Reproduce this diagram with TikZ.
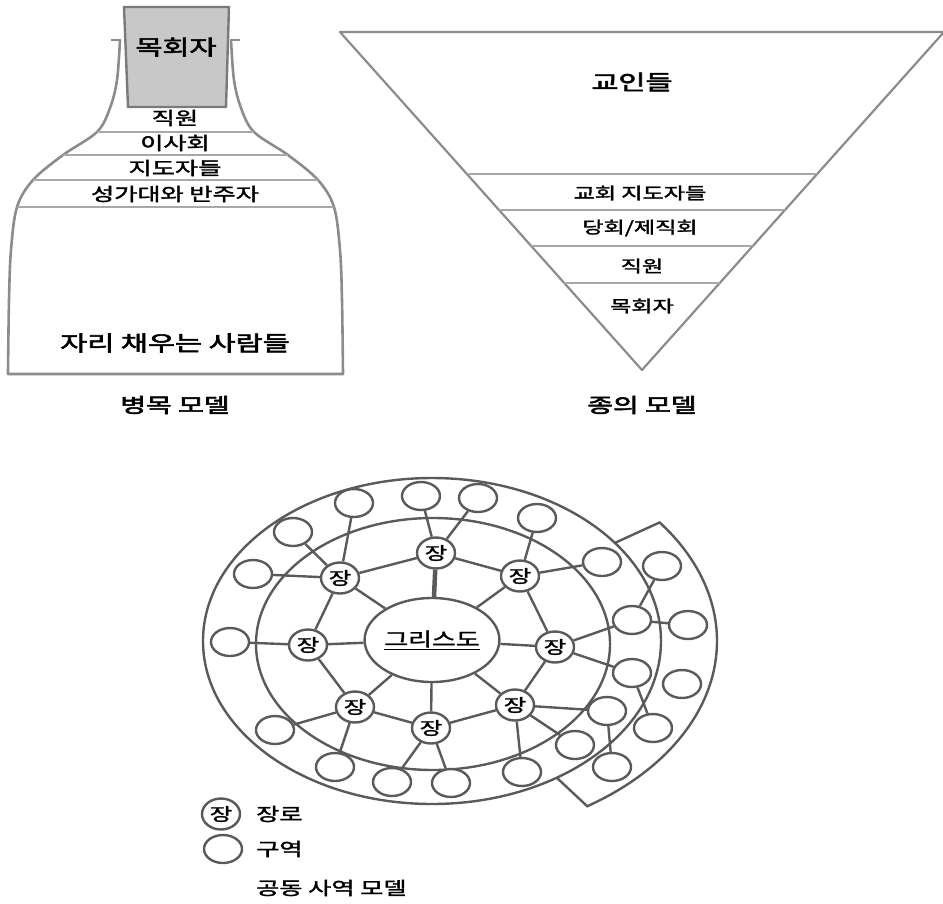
\documentclass[tikz,border=0pt]{standalone}
\usepackage{fontspec}
\setmainfont{Noto Sans CJK KR}
\newfontfamily\krm{Noto Sans CJK KR}[FakeBold=1.6]
\newfontfamily\krh{Noto Sans CJK KR}[FakeBold=2.4]
\usepackage{graphicx}
\usetikzlibrary{calc,shapes.geometric}
\newcommand{\sx}[1]{\scalebox{1.4}[1]{#1}}
\definecolor{outl}{HTML}{8C8C8C}
\definecolor{thinl}{HTML}{A8A8A8}
\definecolor{dk}{HTML}{5A5A5A}
\definecolor{boxfill}{HTML}{C8C8C8}
\definecolor{boxedge}{HTML}{7A7A7A}
\begin{document}
\begin{tikzpicture}[x=1pt,y=1pt,
  shapeline/.style={draw=outl, line width=2.6pt, line join=round},
  divider/.style={draw=thinl, line width=1.2pt},
  dline/.style={draw=dk, line width=2.4pt},
  lbl/.style={inner sep=0pt, font=\krm\fontsize{18}{20}\selectfont},
  tlbl/.style={inner sep=0pt, font=\krm\fontsize{16.5}{19}\selectfont},
  bigtxt/.style={inner sep=0pt, font=\krh\fontsize{21}{24}\selectfont},
  captxt/.style={inner sep=0pt, font=\krh\fontsize{20}{23}\selectfont},
  jang/.style={ellipse, draw=dk, fill=white, line width=2.4pt, inner sep=0pt,
    minimum width=38pt, minimum height=31pt, font=\krm\fontsize{17.5}{19}\selectfont},
  dist/.style={ellipse, draw=dk, fill=white, line width=2.4pt, inner sep=0pt,
    minimum width=38pt, minimum height=28pt},
  christ/.style={ellipse, draw=dk, fill=white, line width=2.4pt, inner sep=0pt,
    minimum width=118pt, minimum height=84pt, font=\krm\fontsize{18.5}{20}\selectfont}
]
\useasboundingbox (0,0) rectangle (943,-903);

% ---------------- bottle model ----------------
\draw[shapeline] plot[smooth,tension=0.55] coordinates {(120,-40) (117,-80) (110,-108) (97,-132) (63,-155) (33,-180) (17,-207) (11,-250) (9,-300) (8,-374)}
  -- plot[smooth,tension=0.55] coordinates {(343,-374) (342,-300) (340,-250) (334,-207) (318,-180) (288,-155) (254,-132) (241,-108) (234,-80) (231,-40)};
\draw[draw=outl, line width=1.6pt] (111,-40) -- (121,-40);
\draw[draw=outl, line width=1.6pt] (230,-40) -- (240,-40);
\draw[fill=boxfill, draw=boxedge, line width=2.4pt] (124,-7) -- (229,-7) -- (226,-107) -- (128,-107) -- cycle;
\draw[divider] (97,-132) -- (254,-132);
\draw[divider] (63,-155) -- (288,-155);
\draw[divider] (33,-180) -- (318,-180);
\draw[divider] (17,-207) -- (334,-207);
\node[bigtxt] (b0) at (176,-47) {\sx{목회자}};
\node[lbl] (b1) at (175,-118) {\sx{직원}};
\node[lbl] (b2) at (175,-143) {\sx{이사회}};
\node[lbl] (b3) at (175,-168) {\sx{지도자들}};
\node[lbl] (b4) at (175,-194) {\sx{성가대와 반주자}};
\node[bigtxt] (b5) at (175,-343) {\sx{자리 채우는 사람들}};
\node[captxt] (b6) at (175,-405) {\sx{병목 모델}};

% ---------------- servant model ----------------
\draw[shapeline, line width=2.2pt] (340,-32) -- (944,-32) -- (642,-370) -- cycle;
\draw[divider] (467,-174) -- (817,-174);
\draw[divider] (499,-210) -- (785,-210);
\draw[divider] (531,-246) -- (753,-246);
\draw[divider] (564,-283) -- (720,-283);
\node[bigtxt] (s0) at (632,-82) {\sx{교인들}};
\node[tlbl] (s1) at (640,-193) {\sx{교회 지도자들}};
\node[tlbl] (s2) at (640,-228) {\sx{당회/제직회}};
\node[tlbl] (s3) at (642,-266) {\sx{직원}};
\node[tlbl] (s4) at (642,-306) {\sx{목회자}};
\node[captxt] (s5) at (642,-405) {\sx{종의 모델}};

% ---------------- team ministry model ----------------
\coordinate (O) at (432,-641);
\draw[dline] (O) ellipse [x radius=229, y radius=163];
\draw[dline] (433,-644) ellipse [x radius=177, y radius=126];
\draw[dline] ($(O)+({229*cos(37)},{163*sin(37)})$) -- ($(O)+({285*cos(37)},{197*sin(37)})$)
  arc[start angle=37, end angle=-57, x radius=285, y radius=197]
  -- ($(O)+({229*cos(57)},{-163*sin(57)})$);

\node[christ] (C) at (432,-640) {\sx{\underline{그리스도}}};
\node[jang] (T)  at (436,-553) {\sx{장}};
\node[jang] (UL) at (340,-578) {\sx{장}};
\node[jang] (UR) at (520,-576) {\sx{장}};
\node[jang] (L)  at (308,-645) {\sx{장}};
\node[jang] (R)  at (555,-647) {\sx{장}};
\node[jang] (LL) at (355,-707) {\sx{장}};
\node[jang] (LC) at (431,-728) {\sx{장}};
\node[jang] (LR) at (515,-705) {\sx{장}};

\node[dist] (d1)  at (253,-574) {};
\node[dist] (d2)  at (293,-532) {};
\node[dist] (d3)  at (354,-503) {};
\node[dist] (d4)  at (421,-496) {};
\node[dist] (d5)  at (478,-498) {};
\node[dist] (d6)  at (537,-518) {};
\node[dist] (d7)  at (602,-562) {};
\node[dist] (d8)  at (662,-566) {};
\node[dist] (d9)  at (632,-620) {};
\node[dist] (d10) at (688,-625) {};
\node[dist] (d11) at (632,-673) {};
\node[dist] (d12) at (682,-684) {};
\node[dist] (d13) at (653,-728) {};
\node[dist] (d14) at (607,-711) {};
\node[dist] (d15) at (612,-767) {};
\node[dist] (d16) at (575,-745) {};
\node[dist] (d17) at (522,-772) {};
\node[dist] (d18) at (451,-783) {};
\node[dist] (d19) at (392,-782) {};
\node[dist] (d20) at (335,-767) {};
\node[dist] (d21) at (275,-730) {};
\node[dist] (d22) at (230,-642) {};

% elder ring
\draw[dline] (T) -- (UL);
\draw[dline] (T) -- (UR);
\draw[dline] (UL) -- (L);
\draw[dline] (UR) -- (R);
\draw[dline] (L) -- (LL);
\draw[dline] (R) -- (LR);
\draw[dline] (LL) -- (LC);
\draw[dline] (LC) -- (LR);
% spokes
\draw[dk, line width=4.5pt] (T) -- (C);
\draw[dline] (UL) -- (C);
\draw[dline] (UR) -- (C);
\draw[dline] (L) -- (C);
\draw[dline] (R) -- (C);
\draw[dline] (LL) -- (C);
\draw[dline] (LC) -- (C);
\draw[dline] (LR) -- (C);
% districts
\draw[dline] (UL) -- (d1);
\draw[dline] (UL) -- (d2);
\draw[dline] (UL) -- (d3);
\draw[dline] (T) -- (d4);
\draw[dline] (T) -- (d5);
\draw[dline] (UR) -- (d6);
\draw[dline] (UR) -- (d7);
\draw[dline] (d8) -- (d9);
\draw[dline] (R) -- (d9);
\draw[dline] (d9) -- (d10);
\draw[dline] (R) -- (d11);
\draw[dline] (d11) -- (d13);
\draw[dline] (LR) -- (d14);
\draw[dline] (d14) -- (d15);
\draw[dline] (LR) -- (d16);
\draw[dline] (LR) -- (d17);
\draw[dline] (LC) -- (d18);
\draw[dline] (LC) -- (d19);
\draw[dline] (LL) -- (d20);
\draw[dline] (LL) -- (d21);
\draw[dline] (L) -- (d22);

% legend
\node[jang] (lj) at (221,-814) {\sx{장}};
\node[dist] (ld) at (223,-849) {};
\node[lbl, anchor=west] (l1) at (256,-814) {\sx{장로}};
\node[lbl, anchor=west] (l2) at (256,-849) {\sx{구역}};
\node[lbl, anchor=west] (l3) at (256,-888) {\sx{공동 사역 모델}};
\end{tikzpicture}
\end{document}
